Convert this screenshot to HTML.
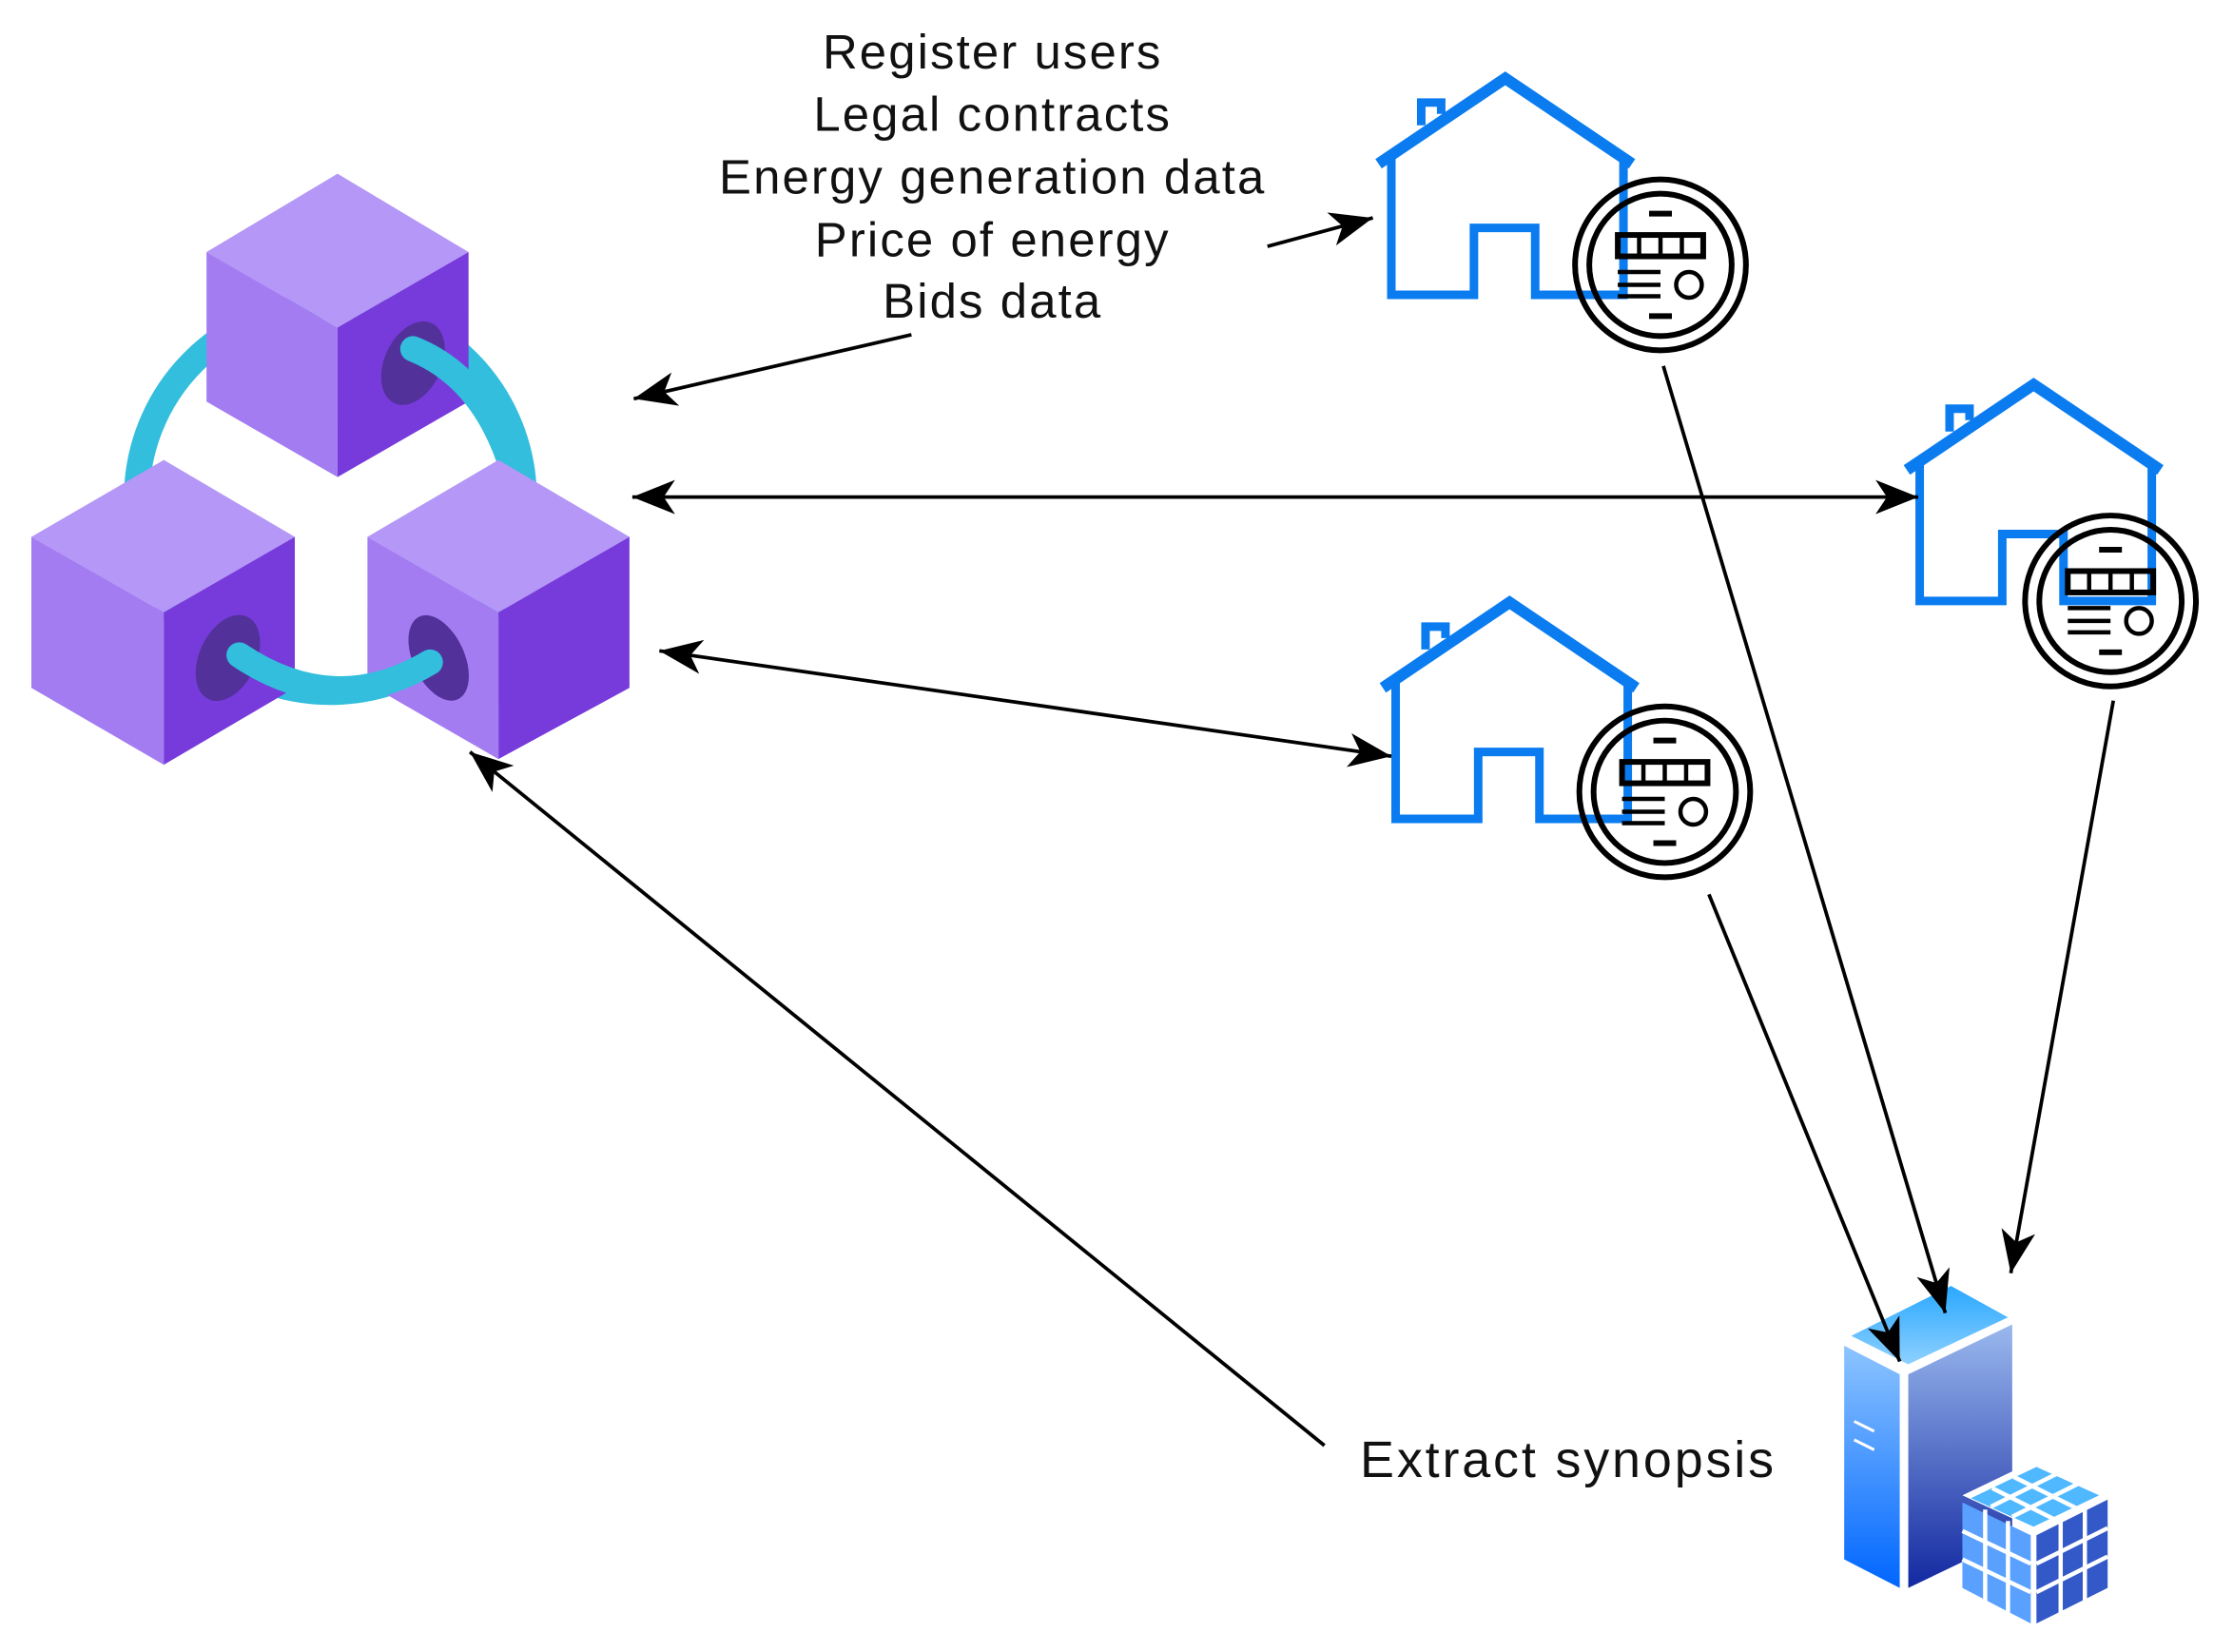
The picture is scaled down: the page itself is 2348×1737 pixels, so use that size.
<!DOCTYPE html>
<html><head><meta charset="utf-8"><style>
html,body{margin:0;padding:0;background:#fff;}
svg{display:block;}
text{font-family:"Liberation Sans",Arial,sans-serif;fill:#111;}
</style></head><body>
<svg width="2348" height="1737" viewBox="0 0 1568 1160" xmlns="http://www.w3.org/2000/svg">
<defs>
<marker id="a" markerUnits="userSpaceOnUse" markerWidth="40" markerHeight="40" viewBox="-30 -15 40 30" refX="0" refY="0" orient="auto-start-reverse">
<path d="M0,0 L-30,-12 L-22,0 L-30,12 Z" fill="#000"/>
</marker>
<linearGradient id="sl" x1="0" y1="0" x2="0" y2="1"><stop offset="0" stop-color="#8cc4ff"/><stop offset="1" stop-color="#0066ff"/></linearGradient>
<linearGradient id="sr" x1="0" y1="0" x2="0" y2="1"><stop offset="0" stop-color="#9ab8ee"/><stop offset="1" stop-color="#1228a0"/></linearGradient>
<linearGradient id="st" x1="0" y1="0" x2="0" y2="1"><stop offset="0" stop-color="#2aa8ff"/><stop offset="1" stop-color="#8dd0ff"/></linearGradient>
<g id="house" fill="none" stroke="#0a7cf0" stroke-width="6">
<polyline points="968,115 1057,55 1146,115" stroke-width="8"/>
<polyline points="977,110 977,207 1035,207 1035,160 1078,160 1078,207 1140,207 1140,110"/>
<polyline points="998,88 998,72 1012,72 1012,80"/>
</g>
<g id="meter" fill="none" stroke="#000">
<circle cx="0" cy="0" r="60" stroke-width="4"/>
<circle cx="0" cy="0" r="50" stroke-width="4"/>
<line x1="-8" y1="-36" x2="8" y2="-36" stroke-width="4"/>
<line x1="-8" y1="36" x2="8" y2="36" stroke-width="4"/>
<rect x="-30" y="-21" width="60" height="15" stroke-width="4"/>
<line x1="-15" y1="-21" x2="-15" y2="-6" stroke-width="3"/>
<line x1="0" y1="-21" x2="0" y2="-6" stroke-width="3"/>
<line x1="15" y1="-21" x2="15" y2="-6" stroke-width="3"/>
<line x1="-30" y1="5" x2="0" y2="5" stroke-width="3"/>
<line x1="-30" y1="14" x2="0" y2="14" stroke-width="3"/>
<line x1="-30" y1="22" x2="0" y2="22" stroke-width="3"/>
<circle cx="20" cy="14" r="9" stroke-width="3"/>
</g>
</defs>

<circle cx="232" cy="350" r="136" fill="none" stroke="#32bedc" stroke-width="18"/>
<g>
<polygon points="237,122 329,177 237,230 145,177" fill="#b497f7"/>
<polygon points="145,177 237,230 237,335 145,282" fill="#a47cf2"/>
<polygon points="237,230 329,177 329,282 237,335" fill="#773bdb"/>
<ellipse cx="290" cy="255" rx="20" ry="31" transform="rotate(25 290 255)" fill="#52319a"/>
<path d="M290,245 Q340,265 360,330" fill="none" stroke="#32bedc" stroke-width="18" stroke-linecap="round"/>
</g>
<g>
<polygon points="115,323 207,377 115,430 22,377" fill="#b497f7"/>
<polygon points="22,377 115,430 115,537 22,483" fill="#a47cf2"/>
<polygon points="115,430 207,377 207,483 115,537" fill="#773bdb"/>
<ellipse cx="160" cy="462" rx="20" ry="32" transform="rotate(25 160 462)" fill="#52319a"/>
</g>
<g>
<polygon points="350,323 442,377 350,430 258,377" fill="#b497f7"/>
<polygon points="258,377 350,430 350,533 258,480" fill="#a47cf2"/>
<polygon points="350,430 442,377 442,483 350,533" fill="#773bdb"/>
<ellipse cx="308" cy="462" rx="18" ry="32" transform="rotate(-25 308 462)" fill="#52319a"/>
</g>
<path d="M168,460 Q235,505 302,465" fill="none" stroke="#32bedc" stroke-width="18" stroke-linecap="round"/>

<use href="#house"/>
<use href="#meter" x="1166" y="186"/>
<use href="#house" x="371" y="215"/>
<use href="#meter" x="1482" y="422"/>
<use href="#house" x="3" y="368"/>
<use href="#meter" x="1169" y="556"/>

<polygon points="1300,938 1370,903 1410,925 1340,958" fill="url(#st)"/>
<polygon points="1295,945 1334,965 1334,1115 1295,1095" fill="url(#sl)"/>
<polygon points="1340,965 1413,930 1413,1080 1340,1115" fill="url(#sr)"/>
<line x1="1302" y1="998" x2="1316" y2="1005" stroke="#fff" stroke-width="2"/>
<line x1="1302" y1="1011" x2="1316" y2="1018" stroke="#fff" stroke-width="2"/>
<g>
<polygon points="1378,1050 1430,1025 1480,1048 1428,1073" fill="#fff"/>
<polygon points="1378,1055 1426,1078 1426,1140 1378,1115" fill="#5aa0ff"/>
<polygon points="1430,1078 1480,1053 1480,1115 1430,1140" fill="#3358c8"/>
<polygon points="1384,1052 1430,1030 1474,1050 1428,1072" fill="#50b8ff"/>
<g stroke="#fff" stroke-width="3">
<line x1="1399" y1="1045" x2="1443" y2="1067"/><line x1="1414" y1="1037" x2="1458" y2="1059"/>
<line x1="1413" y1="1065" x2="1459" y2="1042"/><line x1="1398" y1="1058" x2="1444" y2="1035"/>
<line x1="1394" y1="1060" x2="1394" y2="1125"/><line x1="1410" y1="1068" x2="1410" y2="1133"/>
<line x1="1378" y1="1075" x2="1426" y2="1098"/><line x1="1378" y1="1095" x2="1426" y2="1118"/>
<line x1="1447" y1="1068" x2="1447" y2="1133"/><line x1="1464" y1="1060" x2="1464" y2="1125"/>
<line x1="1430" y1="1098" x2="1480" y2="1073"/><line x1="1430" y1="1118" x2="1480" y2="1093"/>
</g>
</g>

<g stroke="#000" stroke-width="2.5" fill="none">
<line x1="890" y1="173" x2="964" y2="153" marker-end="url(#a)"/>
<line x1="640" y1="235" x2="445" y2="280" marker-end="url(#a)"/>
<line x1="444" y1="349" x2="1347" y2="349" marker-start="url(#a)" marker-end="url(#a)"/>
<line x1="463" y1="457" x2="977" y2="531" marker-start="url(#a)" marker-end="url(#a)"/>
<line x1="930" y1="1015" x2="330" y2="528" marker-end="url(#a)"/>
<line x1="1168" y1="257" x2="1366" y2="922" marker-end="url(#a)"/>
<line x1="1200" y1="628" x2="1334" y2="956" marker-end="url(#a)"/>
<line x1="1484" y1="492" x2="1412" y2="894" marker-end="url(#a)"/>
</g>

<g font-size="34" text-anchor="middle" letter-spacing="1.4">
<text x="697" y="48">Register users</text>
<text x="697" y="92">Legal contracts</text>
<text x="697" y="136">Energy generation data</text>
<text x="697" y="180">Price of energy</text>
<text x="697" y="223">Bids data</text>
</g>
<text x="955" y="1037" font-size="36" letter-spacing="1.9">Extract synopsis</text>
</svg>
</body></html>
